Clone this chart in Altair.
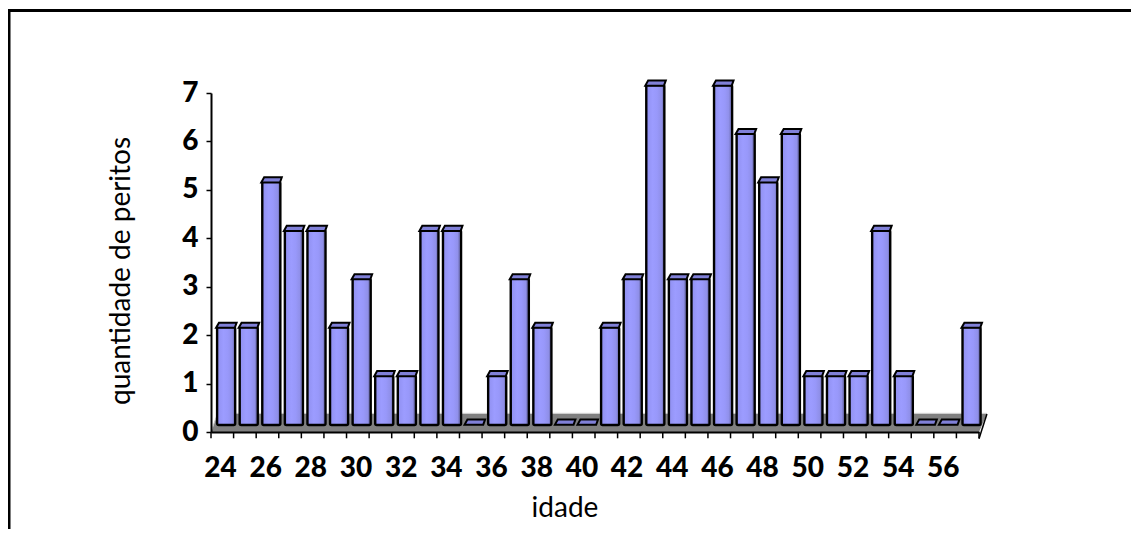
import altair as alt
import pandas as pd

idade = list(range(24, 58))
peritos = [2, 2, 5, 4, 4, 2, 3, 1, 1, 4, 4, 0, 1, 3, 2, 0, 0, 2, 3, 7, 3, 3, 7, 6, 5, 6, 1, 1, 1, 4, 1, 0, 0, 2]
x_ticks = list(range(24, 59))
x_labels = list(range(24, 57, 2))
y_ticks = list(range(0, 8))

FONT = "Lato"
LIFT = 0.145   # the bars stand on the floor, above the axis line
XS = alt.Scale(domain=[24, 58], nice=False, zero=False)
YS = alt.Scale(domain=[0, 7], nice=False)

df = pd.DataFrame({"idade": idade, "peritos": peritos})
nonzero = df[df.peritos > 0]

floor = pd.DataFrame({"y": [0, 0.37], "a": [24, 24.28], "b": [58, 58.35]})

xenc = alt.X("a:Q", scale=XS, title=None)
yenc = alt.Y("y:Q", scale=YS, title=None)
floor_area = alt.Chart(floor).mark_area(orient="horizontal", color="#808080").encode(
    y=yenc, x=xenc, x2="b:Q")
floor_back = alt.Chart(pd.DataFrame({"y": [0.385], "a": [24.28], "b": [58.35]})).mark_rule(
    color="#c8c8c8", strokeWidth=1).encode(y=yenc, x=xenc, x2="b:Q")
floor_left = alt.Chart(floor).mark_line(color="#c8c8c8", strokeWidth=1).encode(x=xenc, y=yenc)
floor_right = alt.Chart(pd.DataFrame({"b": [58, 58.35], "y": [-0.14, 0.37]})).mark_line(
    color="black", strokeWidth=1.5, clip=False).encode(
    x=alt.X("b:Q", scale=XS, title=None), y=yenc)

grad = alt.Gradient(
    gradient="linear", x1=0, x2=1, y1=0, y2=0,
    stops=[
        alt.GradientStop(offset=0, color="#9090f0"),
        alt.GradientStop(offset=0.35, color="#9c9cff"),
        alt.GradientStop(offset=0.6, color="#9898fa"),
        alt.GradientStop(offset=0.85, color="#8f8fe8"),
        alt.GradientStop(offset=0.86, color="#8080d0"),
        alt.GradientStop(offset=1, color="#7c7cc8"),
    ],
)

bars = alt.Chart(nonzero).transform_calculate(
    x0="datum.idade + 0.27", x1="datum.idade + 1.07",
    y0=f"{LIFT}", y1=f"datum.peritos + {LIFT} + 0.02",
).mark_rect(fill=grad, stroke="black", strokeWidth=2.4, cornerRadius=1.5).encode(
    x=alt.X("x0:Q", scale=XS, title=None), x2="x1:Q",
    y=alt.Y("y0:Q", scale=YS, title=None), y2="y1:Q",
)

cap_path = "M -1 0.25 L -0.72 -0.25 L 1 -0.25 L 0.82 0.25 Z"
caps = alt.Chart(df).transform_calculate(
    xc="datum.idade + 0.68", yc=f"datum.peritos + {LIFT} + 0.06",
).mark_point(shape=cap_path, size=420, filled=True, fill="#8080d8", stroke="black",
             strokeWidth=2, opacity=1).encode(
    x=alt.X("xc:Q", scale=XS, title=None),
    y=alt.Y("yc:Q", scale=YS, title=None),
)

# axes
axes = alt.Chart(df).mark_point(opacity=0).encode(
    x=alt.X("idade:Q", scale=XS, axis=alt.Axis(
        orient="bottom", values=x_ticks, labels=False, ticks=False, title=None, grid=False, zindex=1,
        domainColor="black", domainWidth=2)),
    y=alt.Y("peritos:Q", scale=YS, axis=alt.Axis(
        orient="left", values=y_ticks, grid=False, domainColor="black", domainWidth=2, zindex=1,
        tickColor="black", tickWidth=1.5, tickSize=5, labelFont=FONT, labelFontWeight=900,
        labelFontSize=28, labelColor="black", labelPadding=8, title=None)),
)
x_tick_marks = alt.Chart(pd.DataFrame({"v": x_ticks})).transform_calculate(
    y0="0", y1="-0.13").mark_rule(color="black", strokeWidth=1.5, clip=False).encode(
    x=alt.X("v:Q", scale=XS, title=None),
    y=alt.Y("y0:Q", scale=YS, title=None), y2="y1:Q",
)
x_lab = alt.Chart(pd.DataFrame({"idade": x_labels})).transform_calculate(
    lx="datum.idade + 0.42").mark_text(
    font=FONT, fontWeight=900, fontSize=28, color="black", baseline="middle", clip=False).encode(
    x=alt.X("lx:Q", scale=XS, title=None),
    y=alt.value(339 + 37),
    text="idade:N",
)
x_title = alt.Chart(pd.DataFrame({"t": ["idade"]})).mark_text(
    font=FONT, fontSize=28, color="black", baseline="middle").encode(
    x=alt.value(354), y=alt.value(339 + 77), text="t:N")
y_title = alt.Chart(pd.DataFrame({"t": ["quantidade de peritos"]})).mark_text(
    font=FONT, fontSize=28, color="black", baseline="middle", angle=270).encode(
    x=alt.value(-89), y=alt.value(178), text="t:N")

frame_top = alt.Chart(pd.DataFrame({"k": [0]})).mark_rule(color="black", strokeWidth=3).encode(
    x=alt.value(-203), x2=alt.value(920), y=alt.value(-82.5))
frame_left = alt.Chart(pd.DataFrame({"k": [0]})).mark_rule(color="black", strokeWidth=3).encode(
    x=alt.value(-202), y=alt.value(-84), y2=alt.value(436))

chart = alt.layer(
    axes, frame_top, frame_left, floor_area, floor_back, floor_left, floor_right,
    x_tick_marks, bars, caps, x_lab, x_title, y_title,
).properties(
    width=768, height=339,
    background="white",
    autosize=alt.AutoSizeParams(type="none"),
    padding={"left": 203, "top": 85, "right": 152, "bottom": 97},
).configure_view(stroke=None)

chart.save("out.html", embed_options={"renderer": "svg", "actions": False})
